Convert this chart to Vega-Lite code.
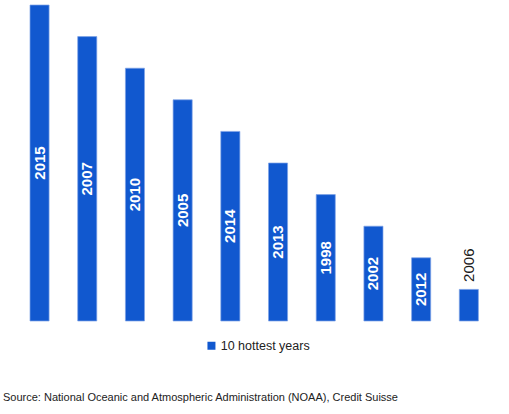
{
  "$schema": "https://vega.github.io/schema/vega-lite/v6.json",
  "width": 477,
  "height": 316,
  "autosize": {"type": "none"},
  "padding": {"left": 15.7, "top": 5, "right": 16.3, "bottom": 93},
  "background": "white",
  "config": {"view": {"stroke": null}, "font": "Liberation Sans"},
  "title": {
    "text": "Source: National Oceanic and Atmospheric Administration (NOAA), Credit Suisse",
    "orient": "bottom",
    "anchor": "start",
    "frame": "group",
    "fontSize": 11,
    "fontWeight": "normal",
    "color": "#222222",
    "dx": -12.7,
    "offset": 45,
    "baseline": "middle"
  },
  "data": {
    "values": [
      {"year": "2015", "rank": 10, "series": "10 hottest years"},
      {"year": "2007", "rank": 9, "series": "10 hottest years"},
      {"year": "2010", "rank": 8, "series": "10 hottest years"},
      {"year": "2005", "rank": 7, "series": "10 hottest years"},
      {"year": "2014", "rank": 6, "series": "10 hottest years"},
      {"year": "2013", "rank": 5, "series": "10 hottest years"},
      {"year": "1998", "rank": 4, "series": "10 hottest years"},
      {"year": "2002", "rank": 3, "series": "10 hottest years"},
      {"year": "2012", "rank": 2, "series": "10 hottest years"},
      {"year": "2006", "rank": 1, "series": "10 hottest years"}
    ]
  },
  "encoding": {
    "x": {
      "field": "year",
      "type": "nominal",
      "sort": null,
      "axis": null,
      "scale": {"paddingInner": 0.6, "paddingOuter": 0.3}
    }
  },
  "layer": [
    {
      "mark": {"type": "bar", "stroke": "#7fa3e6", "strokeWidth": 0.7},
      "encoding": {
        "y": {"field": "rank", "type": "quantitative", "axis": null, "scale": {"domain": [0, 10], "nice": false}},
        "color": {
          "field": "series",
          "type": "nominal",
          "scale": {"range": ["#1158CF"]},
          "legend": {
            "title": null,
            "orient": "none",
            "legendX": 189.5,
            "legendY": 334.5,
            "padding": 0,
            "symbolType": "square",
            "symbolSize": 64,
            "symbolStrokeWidth": 0,
            "labelFontSize": 12.5,
            "labelColor": "#222222",
            "labelOffset": 3
          }
        }
      }
    },
    {
      "transform": [{"filter": "datum.rank > 1"}, {"calculate": "datum.rank / 2", "as": "mid"}],
      "mark": {"type": "text", "angle": 270, "align": "center", "baseline": "middle", "fontSize": 15, "fontWeight": "bold", "color": "white"},
      "encoding": {
        "y": {"field": "mid", "type": "quantitative"},
        "text": {"field": "year"}
      }
    },
    {
      "transform": [{"filter": "datum.rank == 1"}],
      "mark": {"type": "text", "angle": 270, "align": "left", "baseline": "middle", "dx": 7.5, "fontSize": 15, "color": "#1a1a1a"},
      "encoding": {
        "y": {"field": "rank", "type": "quantitative"},
        "text": {"field": "year"}
      }
    }
  ]
}
